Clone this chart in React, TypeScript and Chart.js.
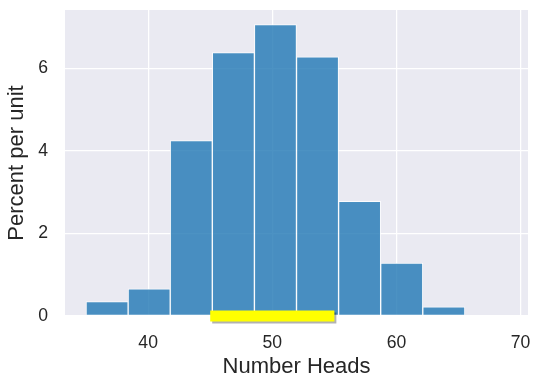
import React, { useEffect, useRef } from "react";
import { Chart, registerables } from "chart.js";

Chart.register(...registerables);

// Histogram bins (left edges), bin width and heights (percent per unit)
const binStarts = [35, 38.39, 41.78, 45.17, 48.56, 51.95, 55.34, 58.73, 62.12, 65.51];
const binWidth = 3.39;
const percentPerUnit = [0.35, 0.66, 4.25, 6.38, 7.06, 6.28, 2.78, 1.28, 0.22, 0];

// Highlighted interval on the x-axis
const intervalEnds = [45, 55];

// Axis ticks
const xTicks = [40, 50, 60, 70];
const yTicks = [0, 2, 4, 6];

const FONT = "'Liberation Sans', Arial, 'DejaVu Sans', sans-serif";
const TEXT = "#262626";

export default function App() {
  const ref = useRef<HTMLCanvasElement>(null);

  useEffect(() => {
    document.body.style.margin = "0";
    const canvas = ref.current;
    if (!canvas) return;

    const lastEdge = binStarts[binStarts.length - 1] + binWidth;
    const span = lastEdge - binStarts[0];
    const xMin = binStarts[0] - 0.05 * span;
    const xMax = lastEdge + 0.05 * span;
    const yMax = Math.max(...percentPerUnit) * 1.05;

    const bgPlugin = {
      id: "bgPlugin",
      beforeDraw(chart: any) {
        const { ctx, chartArea: a } = chart;
        ctx.save();
        ctx.fillStyle = "#eaeaf2";
        ctx.fillRect(a.left, a.top, a.right - a.left, a.bottom - a.top);
        ctx.restore();
      },
    };

    const shadowPlugin = {
      id: "shadowPlugin",
      beforeDatasetDraw(chart: any, args: any) {
        if (args.index !== 1) return;
        const ctx = chart.ctx;
        ctx.save();
        ctx.shadowColor = "rgba(0,0,0,0.3)";
        ctx.shadowOffsetX = 2;
        ctx.shadowOffsetY = 2;
        ctx.shadowBlur = 0;
      },
      afterDatasetDraw(chart: any, args: any) {
        if (args.index !== 1) return;
        chart.ctx.restore();
      },
    };

    const chart = new Chart(canvas, {
      type: "bar",
      data: {
        datasets: [
          {
            type: "bar",
            data: binStarts.map((s, i) => ({ x: s + binWidth / 2, y: percentPerUnit[i] })),
            backgroundColor: (c: any) =>
              c.raw && c.raw.y > 0 ? "rgba(31,119,180,0.8)" : "rgba(0,0,0,0)",
            borderColor: "rgba(255,255,255,0.8)",
            borderWidth: (c: any) => (c.raw && c.raw.y > 0 ? 1 : 0),
            borderSkipped: false,
            categoryPercentage: 1,
            barPercentage: 1,
            order: 2,
          } as any,
          {
            type: "line",
            data: intervalEnds.map((v) => ({ x: v, y: 0 })),
            borderColor: "#ffff00",
            borderWidth: 11,
            borderCapStyle: "butt",
            pointRadius: 0,
            clip: false,
            order: 1,
          } as any,
        ],
      },
      options: {
        animation: false,
        responsive: false,
        events: [],
        layout: { padding: { left: 0, top: 10, right: 12, bottom: 0 } },
        plugins: { legend: { display: false }, tooltip: { enabled: false } },
        scales: {
          x: {
            type: "linear",
            min: xMin,
            max: xMax,
            offset: false,
            afterBuildTicks: (s: any) => {
              s.ticks = xTicks.map((v) => ({ value: v }));
            },
            afterFit: (s: any) => {
              s.height = 72;
              s.paddingLeft = 0;
              s.paddingRight = 0;
              s.paddingTop = 0;
              s.paddingBottom = 0;
            },
            grid: { color: "#ffffff", lineWidth: 1.25, drawTicks: false, offset: false },
            border: { display: false },
            ticks: { padding: 16.6, color: TEXT, font: { family: FONT, size: 17.6 } },
            title: {
              display: true,
              text: "Number Heads",
              color: TEXT,
              font: { family: FONT, size: 22 },
              padding: { top: 0, bottom: 7.4 },
            },
          },
          y: {
            type: "linear",
            min: 0,
            max: yMax,
            afterBuildTicks: (s: any) => {
              s.ticks = yTicks.map((v) => ({ value: v }));
            },
            afterFit: (s: any) => {
              s.width = 65;
              s.paddingLeft = 0;
              s.paddingRight = 0;
              s.paddingTop = 0;
              s.paddingBottom = 0;
            },
            grid: { color: "#ffffff", lineWidth: 1.25, drawTicks: false },
            border: { display: false },
            ticks: { padding: 17, color: TEXT, font: { family: FONT, size: 17.6 } },
            title: {
              display: true,
              text: "Percent per unit",
              color: TEXT,
              font: { family: FONT, size: 22 },
              padding: { top: 4, bottom: 0 },
            },
          },
        },
      } as any,
      plugins: [bgPlugin, shadowPlugin],
    });

    return () => chart.destroy();
  }, []);

  return (
    <div style={{ position: "absolute", left: 0, top: 0, width: 540, height: 388 }}>
      <canvas ref={ref} width={540} height={388} style={{ display: "block" }} />
    </div>
  );
}
